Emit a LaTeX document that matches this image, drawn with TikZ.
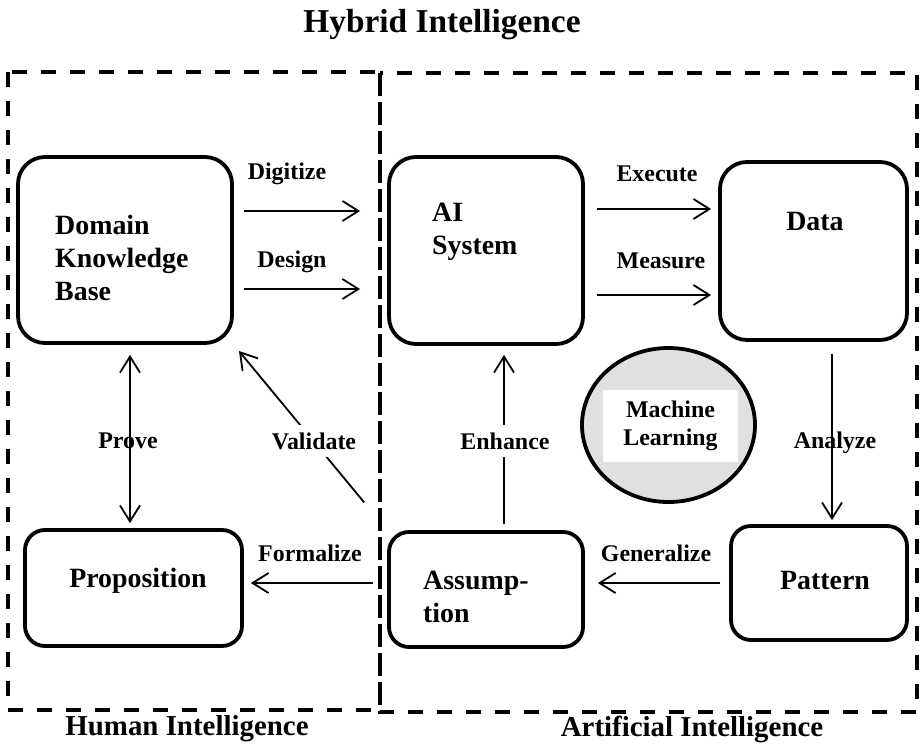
\documentclass[tikz,border=0pt]{standalone}
\usepackage{fontspec}
\setmainfont{Liberation Serif}
\usetikzlibrary{arrows.meta,shapes.geometric}
\begin{document}
\begin{tikzpicture}[x=1bp,y=-1bp,
  box/.style={draw, line width=3.8bp, rounded corners=27bp, inner sep=0pt},
  sbox/.style={draw, line width=3.8bp, rounded corners=20bp, inner sep=0pt},
  big/.style={font=\bfseries\fontsize{28}{33}\selectfont, inner sep=0pt},
  lbl/.style={font=\bfseries\fontsize{24}{28}\selectfont, inner sep=1pt},
  ttl/.style={font=\bfseries\fontsize{29}{34}\selectfont, inner sep=0pt},
  arr/.style={line width=1.8bp, -{Straight Barb[length=16bp,width=20bp,line width=1.8bp]}},
  darr/.style={line width=1.8bp, {Straight Barb[length=16bp,width=20bp,line width=1.8bp]}-{Straight Barb[length=16bp,width=20bp,line width=1.8bp]}},
  region/.style={line width=4bp, dash pattern=on 15bp off 14bp}]
\useasboundingbox (0,0) rectangle (920,744);
% regions
\draw[region] (8,72) rectangle (380,710);
\draw[region] (380,73) rectangle (917,712);
% titles
\node[ttl, font=\bfseries\fontsize{33.5}{38}\selectfont] (title) at (442,25) {Hybrid Intelligence};
\node[ttl] (human) at (187,729) {Human Intelligence};
\node[ttl] (artif) at (692,729.5) {Artificial Intelligence};
% boxes
\node[box, minimum width=214bp, minimum height=186bp] (dkb) at (125,250) {};
\node[box, minimum width=194bp, minimum height=187bp] (ai) at (486,250.5) {};
\node[box, minimum width=187bp, minimum height=178bp] (data) at (813.5,251) {};
\node[sbox, minimum width=217bp, minimum height=116bp] (prop) at (133.5,588) {};
\node[sbox, minimum width=194bp, minimum height=115bp] (assum) at (486,589.5) {};
\node[sbox, minimum width=176bp, minimum height=114bp] (pat) at (819,583) {};
% box texts
\node[big, anchor=west, align=left] (dkbt) at (55,258) {Domain\\Knowledge\\Base};
\node[big, anchor=west, align=left] (ait) at (432,232) {AI\\System};
\node[big] (datat) at (815,222) {Data};
\node[big] (propt) at (138,581) {Proposition};
\node[big, anchor=west, align=left] (assumt) at (423,597) {Assump-\\tion};
\node[big] (patt) at (825,580) {Pattern};
% machine learning
\node[ellipse, draw, line width=3.8bp, fill=black!12, minimum width=173bp, minimum height=154bp] (ml) at (668.5,425) {};
\node[fill=white, minimum width=135bp, minimum height=72bp, align=center, inner sep=0pt,
      font=\bfseries\fontsize{24}{28}\selectfont] (mlt) at (670.5,426) {Machine\\Learning};
% connectors
\draw[arr, shorten <=10bp, shorten >=27bp] (dkb.east |- 0,211) -- (ai.west |- 0,211);
\draw[arr, shorten <=10bp, shorten >=27bp] (dkb.east |- 0,289) -- (ai.west |- 0,289);
\draw[arr, shorten <=12bp, shorten >=7bp] (ai.east |- 0,209) -- (data.west |- 0,209);
\draw[arr, shorten <=12bp, shorten >=7bp] (ai.east |- 0,295) -- (data.west |- 0,295);
\draw[arr, shorten <=12bp, shorten >=4bp] (data.south -| 832,0) -- (pat.north -| 832,0);
\draw[arr, shorten <=9bp, shorten >=13bp] (pat.west |- 0,583) -- (assum.east |- 0,583);
\draw[arr, shorten <=14bp, shorten >=7bp] (assum.west |- 0,583) -- (prop.east |- 0,583);
\draw[darr, shorten <=10bp, shorten >=5bp] (dkb.south -| 130,0) -- (prop.north -| 130,0);
\draw[arr, shorten <=6bp, shorten >=9bp] (assum.north -| 504,0) -- (ai.south -| 504,0);
\draw[arr, shorten <=36bp, shorten >=8bp] (assum.north west) -- (dkb.south east);
% labels
\node[lbl] (ldig) at (287,174) {Digitize};
\node[lbl] (ldes) at (292,262) {Design};
\node[lbl] (lexe) at (657,174) {Execute};
\node[lbl] (lmea) at (661,261) {Measure};
\node[lbl] (lana) at (835,443) {Analyze};
\node[lbl] (lgen) at (656,553) {Generalize};
\node[lbl] (lfor) at (310,553) {Formalize};
\node[lbl] (lpro) at (128,441) {Prove};
\node[lbl, fill=white, inner ysep=8pt] (lval) at (314,441) {Validate};
\node[lbl, fill=white, inner ysep=8pt] (lenh) at (505,441) {Enhance};
\end{tikzpicture}
\end{document}
